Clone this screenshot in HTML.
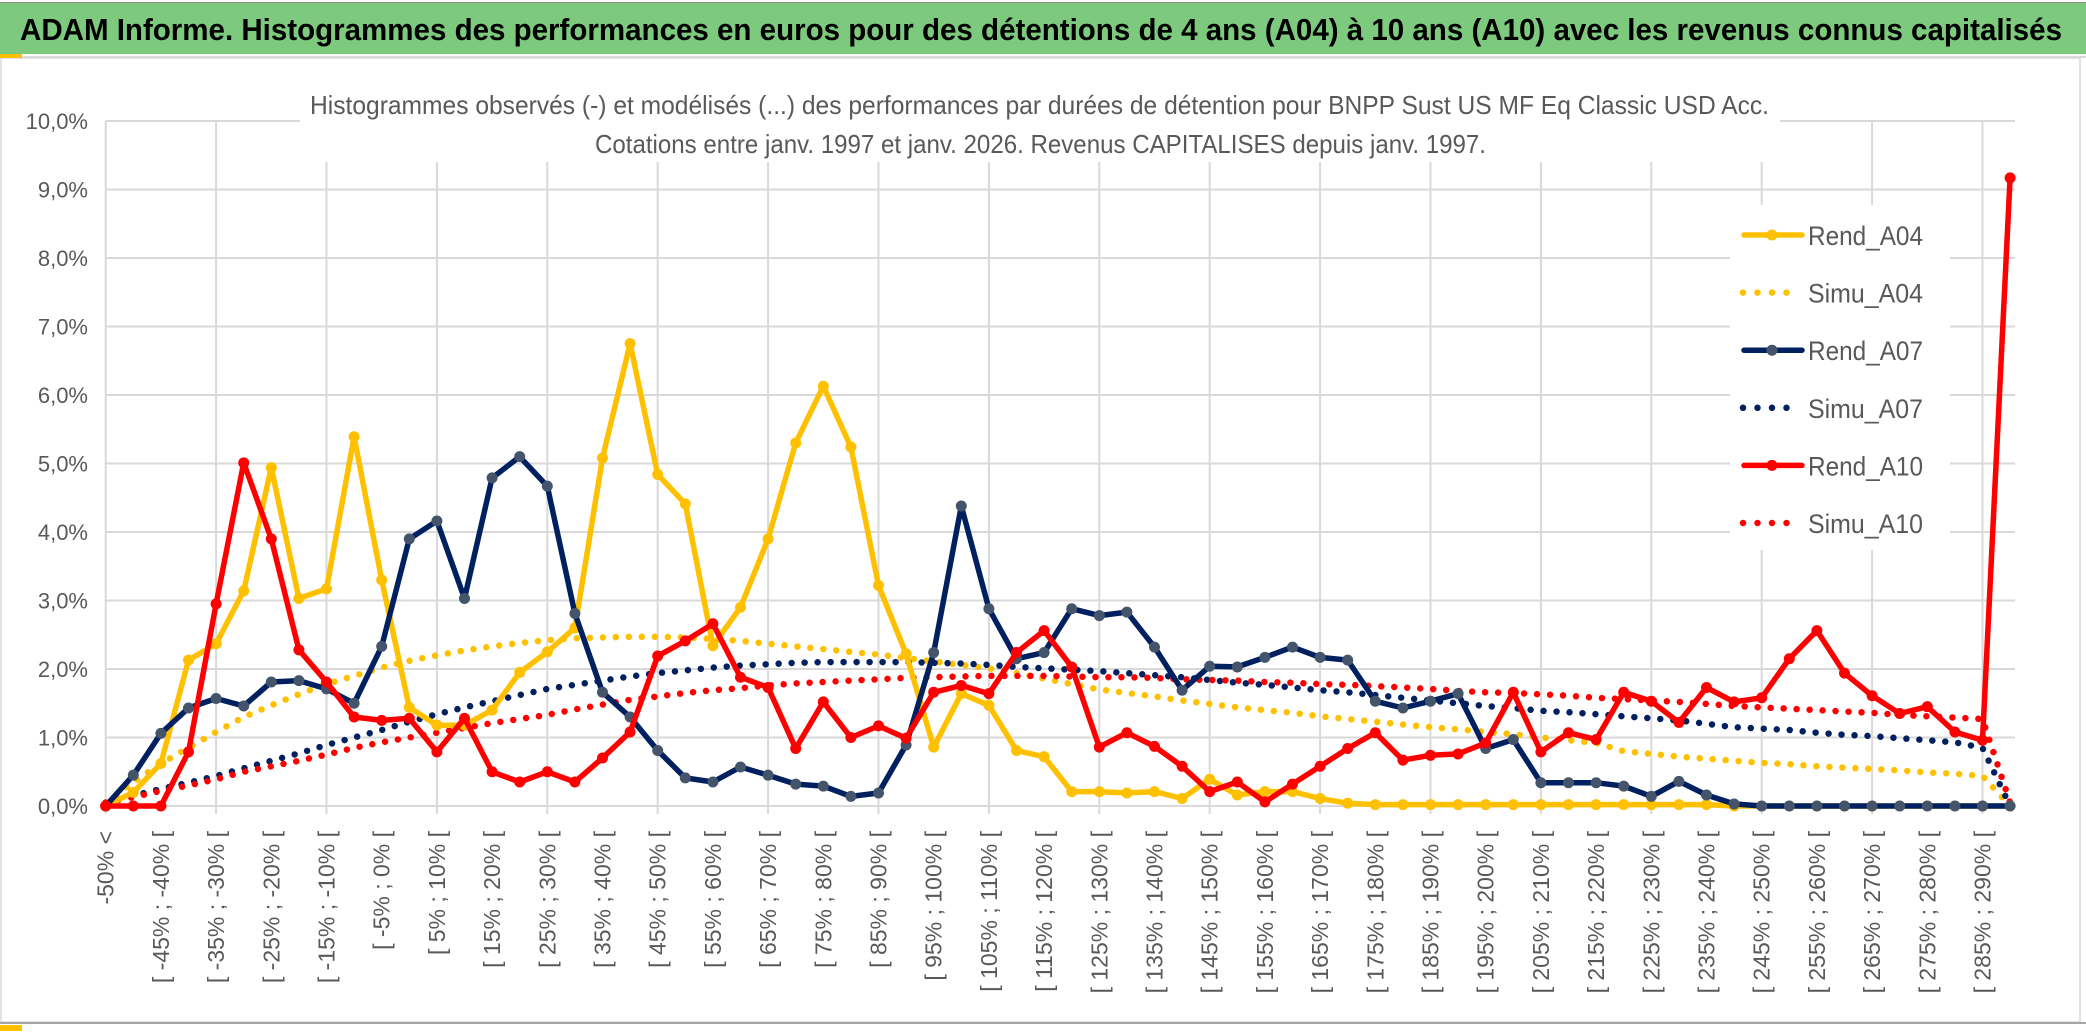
<!DOCTYPE html>
<html><head><meta charset="utf-8"><style>
html,body{margin:0;padding:0;background:#fff;}
svg{display:block;}
text{font-family:"Liberation Sans",sans-serif;}
</style></head><body>
<svg id="chart" width="2086" height="1033" viewBox="0 0 2086 1033" xmlns="http://www.w3.org/2000/svg">
<rect x="0" y="0" width="2086" height="1033" fill="#fff"/>
<rect x="0" y="2" width="2086" height="52" fill="#7dc97d"/>
<rect x="0" y="2" width="2086" height="1" fill="#888"/>
<text x="20" y="40" font-size="31" font-weight="bold" fill="#000" textLength="2042" lengthAdjust="spacingAndGlyphs">ADAM Informe. Histogrammes des performances en euros pour des détentions de 4 ans (A04) à 10 ans (A10) avec les revenus connus capitalisés</text>
<rect x="0" y="56" width="2086" height="2" fill="#d9d9d9"/>
<rect x="1" y="58" width="2079" height="964" fill="none" stroke="#d9d9d9" stroke-width="1.5"/>
<rect x="0" y="1022" width="2086" height="2" fill="#a6a6a6"/>
<rect x="0" y="54" width="22" height="4" fill="#ffc000"/>
<rect x="0" y="1025" width="22" height="6" fill="#ffc000"/>
<g id="grid"></g>
<rect x="300" y="84" width="1480" height="78" fill="#fff"/>
<text x="310" y="114" font-size="26" fill="#595959" textLength="1459" lengthAdjust="spacingAndGlyphs">Histogrammes observés (-) et modélisés (...) des performances par durées de détention pour BNPP Sust US MF Eq Classic USD Acc.</text>
<text x="595" y="153" font-size="26" fill="#595959" textLength="891" lengthAdjust="spacingAndGlyphs">Cotations entre janv. 1997 et janv. 2026. Revenus CAPITALISES depuis janv. 1997.</text>
<g id="yaxis"></g>
<g id="xaxis"></g>
<g id="series"></g>
<g id="legend"></g>
</svg>
<script>
const categories = [];
categories.push("-50% <");
for (let k = 0; k < 69; k++) { const lo = -50 + 5 * k; categories.push("[ " + lo + "% ; " + (lo + 5) + "% ["); }
const yTicks = [0,1,2,3,4,5,6,7,8,9,10];
const yTickLabels = ["0,0%","1,0%","2,0%","3,0%","4,0%","5,0%","6,0%","7,0%","8,0%","9,0%","10,0%"];
const rendA04 = [0,0.2,0.62,2.13,2.37,3.14,4.94,3.03,3.17,5.39,3.3,1.44,1.18,1.18,1.4,1.95,2.25,2.6,5.08,6.75,4.84,4.41,2.34,2.9,3.9,5.3,6.13,5.24,3.22,2.22,0.86,1.64,1.47,0.81,0.72,0.21,0.21,0.19,0.21,0.11,0.39,0.16,0.21,0.21,0.11,0.04,0.02,0.02,0.02,0.02,0.02,0.02,0.02,0.02,0.02,0.02,0.02,0.02,0.02,0.0,0,0,0,0,0,0,0,0,0,0];
const simuA04 = [0.05,0.35,0.62,0.85,1.08,1.3,1.47,1.63,1.78,1.9,2.02,2.12,2.2,2.27,2.33,2.38,2.42,2.45,2.46,2.47,2.47,2.46,2.44,2.41,2.37,2.33,2.29,2.25,2.21,2.16,2.11,2.06,2.01,1.94,1.86,1.78,1.7,1.65,1.6,1.54,1.49,1.44,1.4,1.36,1.31,1.27,1.23,1.19,1.15,1.12,1.08,1.05,1.0,0.96,0.92,0.8,0.76,0.72,0.69,0.66,0.63,0.61,0.58,0.56,0.54,0.52,0.49,0.47,0.44,0.0];
const rendA07 = [0,0.45,1.06,1.43,1.57,1.46,1.81,1.83,1.71,1.5,2.33,3.9,4.16,3.03,4.79,5.1,4.67,2.81,1.66,1.3,0.81,0.41,0.35,0.57,0.45,0.32,0.29,0.14,0.19,0.89,2.24,4.38,2.88,2.15,2.24,2.88,2.78,2.83,2.32,1.69,2.04,2.03,2.17,2.32,2.17,2.13,1.53,1.43,1.53,1.64,0.84,0.97,0.34,0.34,0.34,0.29,0.14,0.36,0.16,0.03,0,0,0,0,0,0,0,0,0,0];
const simuA07 = [0.05,0.15,0.25,0.34,0.44,0.55,0.66,0.77,0.89,1.0,1.11,1.23,1.34,1.44,1.53,1.62,1.71,1.77,1.83,1.89,1.94,1.98,2.02,2.05,2.07,2.09,2.1,2.1,2.1,2.1,2.09,2.08,2.06,2.03,2.01,1.99,1.97,1.94,1.91,1.88,1.84,1.8,1.77,1.73,1.69,1.66,1.62,1.58,1.54,1.5,1.46,1.43,1.39,1.37,1.34,1.31,1.28,1.25,1.2,1.15,1.13,1.11,1.07,1.04,1.02,0.99,0.96,0.93,0.85,0.0];
const rendA10 = [0,0,0,0.79,2.95,5.01,3.9,2.28,1.81,1.3,1.25,1.28,0.79,1.28,0.5,0.35,0.5,0.35,0.7,1.08,2.19,2.41,2.66,1.88,1.73,0.84,1.52,1.0,1.17,0.99,1.66,1.76,1.64,2.24,2.56,2.03,0.86,1.07,0.87,0.58,0.21,0.35,0.06,0.32,0.58,0.84,1.07,0.67,0.74,0.76,0.92,1.66,0.79,1.07,0.97,1.66,1.53,1.22,1.73,1.52,1.58,2.15,2.56,1.94,1.61,1.35,1.45,1.08,0.96,9.17];
const simuA10 = [0.05,0.13,0.22,0.3,0.39,0.5,0.58,0.66,0.75,0.85,0.93,1.0,1.07,1.14,1.21,1.27,1.33,1.41,1.48,1.55,1.6,1.65,1.69,1.72,1.76,1.79,1.81,1.83,1.85,1.87,1.88,1.89,1.9,1.9,1.9,1.89,1.88,1.88,1.87,1.85,1.84,1.83,1.81,1.8,1.78,1.77,1.75,1.73,1.71,1.68,1.66,1.65,1.63,1.61,1.58,1.56,1.54,1.52,1.49,1.46,1.44,1.42,1.4,1.38,1.36,1.33,1.31,1.29,1.27,0.05];
const seriesNames = ["Rend_A04","Simu_A04","Rend_A07","Simu_A07","Rend_A10","Simu_A10"];

const NS = "http://www.w3.org/2000/svg";
const X0 = 105.7, DX = 27.6, Y0 = 806, DY = 68.5;
function xs(i){ return X0 + DX * i; }
function ys(v){ return Y0 - DY * v; }
function mk(tag, attrs, parent){ const e = document.createElementNS(NS, tag); for (const k in attrs) e.setAttribute(k, attrs[k]); parent.appendChild(e); return e; }

const grid = document.getElementById('grid');
yTicks.forEach(function(t){
  const l = mk('line', {x1: X0, x2: 2015, y1: ys(t), y2: ys(t), stroke: '#d9d9d9', 'stroke-width': 2}, grid);
  
  
});
for (let i = 0; i < categories.length; i += 4) {
  const l = mk('line', {x1: xs(i), x2: xs(i), y1: ys(10), y2: Y0 + 8, stroke: '#d9d9d9', 'stroke-width': 2}, grid);
  
  
}
const lb = mk('rect', {x: 1730, y: 205, width: 220, height: 345, fill: '#fff'}, grid);



const yax = document.getElementById('yaxis');
yTicks.forEach(function(t, k){
  const tx = mk('text', {x: 88, y: ys(t) + 8, 'font-size': 22, fill: '#595959', 'text-anchor': 'end'}, yax);
  tx.textContent = yTickLabels[k];
  
  
});
const xax = document.getElementById('xaxis');
for (let i = 0; i < categories.length; i += 2) {
  const tx = mk('text', {x: 0, y: 0, 'font-size': 23, fill: '#595959', 'text-anchor': 'end', transform: 'translate(' + (xs(i) + 8) + ',831) rotate(-90)'}, xax);
  tx.textContent = categories[i];
  
  
}

const ser = document.getElementById('series');
function pts(arr){ return arr.map(function(v, i){ return xs(i).toFixed(1) + ',' + ys(v).toFixed(1); }).join(' '); }
function dotted(arr, color, name){
  const p = mk('polyline', {points: pts(arr), fill: 'none', stroke: color, 'stroke-width': 6.5, 'stroke-linecap': 'round', 'stroke-linejoin': 'round', 'stroke-dasharray': '0 13'}, ser);
  
  
}
function solid(arr, color, mcolor, name){
  const p = mk('polyline', {points: pts(arr), fill: 'none', stroke: color, 'stroke-width': 5.5, 'stroke-linejoin': 'round'}, ser);
  
  
  arr.forEach(function(v, i){
    const c = mk('circle', {cx: xs(i), cy: ys(v), r: 5.5, fill: mcolor}, ser);
    
    
  });
}
dotted(simuA04, '#ffc000', 'simu-a04-line');
dotted(simuA07, '#002060', 'simu-a07-line');
dotted(simuA10, '#ff0000', 'simu-a10-line');
solid(rendA04, '#ffc000', '#ffc000', 'rend-a04-line');
solid(rendA07, '#002060', '#44546a', 'rend-a07-line');
solid(rendA10, '#ff0000', '#ff0000', 'rend-a10-line');

const leg = document.getElementById('legend');
const legColors = ['#ffc000','#ffc000','#002060','#002060','#ff0000','#ff0000'];
const legMarker = ['#ffc000',null,'#44546a',null,'#ff0000',null];
seriesNames.forEach(function(n, k){
  const y = 235 + k * 57.6;
  const g = mk('g', {}, leg);
  
  
  if (legMarker[k]) {
    mk('line', {x1: 1744, x2: 1802, y1: y, y2: y, stroke: legColors[k], 'stroke-width': 5.5, 'stroke-linecap': 'round'}, g);
    mk('circle', {cx: 1772, cy: y, r: 5.5, fill: legMarker[k]}, g);
  } else {
    mk('line', {x1: 1743, x2: 1800, y1: y, y2: y, stroke: legColors[k], 'stroke-width': 6.5, 'stroke-linecap': 'round', 'stroke-dasharray': '0 14.5'}, g);
  }
  const t = mk('text', {x: 1808, y: y + 10, 'font-size': 27, fill: '#595959', textLength: 115, lengthAdjust: 'spacingAndGlyphs'}, g);
  t.textContent = n;
});
</script>
</body></html>
